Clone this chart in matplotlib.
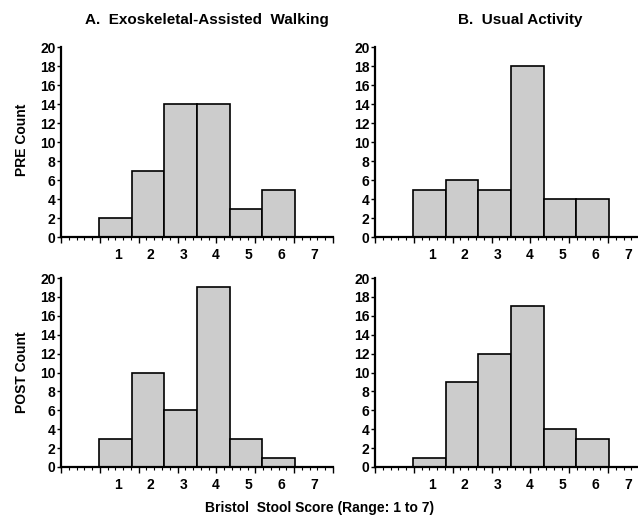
import numpy as np
import matplotlib
matplotlib.use('Agg')
import matplotlib.pyplot as plt
from matplotlib.ticker import FixedLocator, NullFormatter

plt.rcParams['font.family'] = ['Liberation Sans', 'DejaVu Sans']
plt.rcParams['font.weight'] = 'bold'

scores = [1, 2, 3, 4, 5, 6]
score_labels = ['1', '2', '3', '4', '5', '6', '7']
walk_pre = [2, 7, 14, 14, 3, 5]
usual_pre = [5, 6, 5, 18, 4, 4]
walk_post = [3, 10, 6, 19, 3, 1]
usual_post = [1, 9, 12, 17, 4, 3]

fig = plt.figure(figsize=(6.38, 5.29), dpi=100)

# axes boxes in pixels: left, bottom, width, height
W, H = 638, 529
boxes = {
    'A_pre': (61, 237, 272, 190),
    'B_pre': (375, 237, 272, 190),
    'A_post': (61, 467, 272, 189),
    'B_post': (375, 467, 272, 189),
}
data = {
    'A_pre': walk_pre,
    'B_pre': usual_pre,
    'A_post': walk_post,
    'B_post': usual_post,
}

xmin, xmax = -0.66, 7.66
major = np.linspace(xmin, xmax, 8)
minor = np.linspace(xmin, xmax, 36)

for key, (l, b, w, h) in boxes.items():
    ax = fig.add_axes([l / W, 1 - b / H, w / W, h / H])
    ax.bar(scores, data[key], width=1.0, color='#cccccc',
           edgecolor='black', linewidth=1.2, zorder=2)
    ax.set_xlim(xmin, xmax)
    ax.set_ylim(0, 20)
    ax.set_yticks(range(0, 21, 2))
    ax.spines['top'].set_visible(False)
    ax.spines['right'].set_visible(False)
    ax.spines['left'].set_linewidth(1.6)
    ax.spines['bottom'].set_linewidth(1.6)
    ax.spines['bottom'].set_zorder(3)
    ax.tick_params(axis='y', length=3, width=1, labelsize=10, pad=1)
    # score labels (no tick marks) and separate axis tick marks
    ax.set_xticks(np.arange(1, 8) + 0.08)
    ax.set_xticklabels(score_labels)
    ax.tick_params(axis='x', which='major', length=0, labelsize=10, pad=8)
    sec = ax.secondary_xaxis('bottom')
    sec.xaxis.set_major_locator(FixedLocator(major))
    sec.xaxis.set_minor_locator(FixedLocator(minor))
    sec.xaxis.set_major_formatter(NullFormatter())
    sec.spines['bottom'].set_visible(False)
    sec.tick_params(which='major', length=4, width=1)
    sec.tick_params(which='minor', length=2, width=0.8)
    for t in ax.get_yticklabels() + ax.get_xticklabels():
        t.set_fontweight('bold')

fig.text(207 / W, 1 - 20 / H, 'A.  Exoskeletal-Assisted  Walking',
         ha='center', va='center', fontsize=11, fontweight='bold')
fig.text(520 / W, 1 - 20 / H, 'B.  Usual Activity',
         ha='center', va='center', fontsize=11, fontweight='bold')
fig.text(22 / W, 1 - 140 / H, 'PRE Count', rotation=90,
         ha='center', va='center', fontsize=10, fontweight='bold')
fig.text(22 / W, 1 - 372 / H, 'POST Count', rotation=90,
         ha='center', va='center', fontsize=10, fontweight='bold')
fig.text(320 / W, 1 - 508 / H, 'Bristol  Stool Score (Range: 1 to 7)',
         ha='center', va='center', fontsize=10, fontweight='bold')

fig.savefig('out.png', dpi=100)
